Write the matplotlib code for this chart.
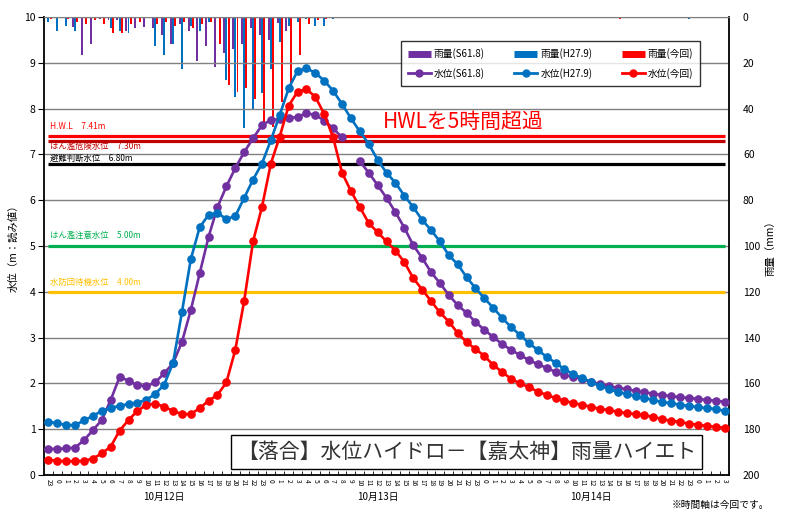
import matplotlib
matplotlib.use('Agg')
import matplotlib.pyplot as plt
import matplotlib.transforms as mtransforms
from matplotlib.lines import Line2D
import numpy as np

plt.rcParams['font.family'] = ['Noto Sans CJK JP', 'DejaVu Sans']

######################################################
# データ
hours = ['23'] + [str(h) for h in range(24)] * 3 + ['0', '1', '2', '3']
date_labels = ['10月12日', '10月13日', '10月14日']
date_pos = [13, 37, 61]

nan = float('nan')
# 水位 (m)
level_s61 = [0.57, 0.57, 0.58, 0.60, 0.76, 0.98, 1.20, 1.64, 2.14, 2.06,
             1.96, 1.94, 2.02, 2.22, 2.44, 2.90, 3.60, 4.40, 5.20, 5.85,
             6.30, 6.70, 7.05, 7.35, 7.64, 7.75, 7.77, 7.79, 7.82, 7.90,
             7.86, 7.74, 7.57, 7.37, nan, 6.85, 6.60, 6.33, 6.05, 5.74,
             5.40, 5.02, 4.74, 4.43, 4.19, 3.93, 3.71, 3.54, 3.34, 3.17,
             3.01, 2.86, 2.73, 2.62, 2.51, 2.42, 2.34, 2.25, 2.18, 2.14,
             2.10, 2.03, 1.99, 1.94, 1.90, 1.88, 1.83, 1.81, 1.77, 1.75,
             1.72, 1.70, 1.68, 1.66, 1.64, 1.62, 1.60]
level_h27 = [1.16, 1.13, 1.09, 1.09, 1.19, 1.29, 1.40, 1.46, 1.51, 1.55,
             1.58, 1.64, 1.77, 1.97, 2.44, 3.55, 4.71, 5.41, 5.68, 5.72,
             5.59, 5.65, 6.05, 6.45, 6.80, 7.31, 7.86, 8.44, 8.82, 8.88,
             8.78, 8.61, 8.39, 8.10, 7.79, 7.50, 7.23, 6.88, 6.60, 6.38,
             6.10, 5.85, 5.57, 5.35, 5.10, 4.80, 4.60, 4.32, 4.08, 3.86,
             3.65, 3.43, 3.23, 3.06, 2.88, 2.73, 2.58, 2.45, 2.31, 2.20,
             2.12, 2.03, 1.94, 1.88, 1.81, 1.77, 1.72, 1.68, 1.64, 1.59,
             1.57, 1.53, 1.51, 1.48, 1.46, 1.44, 1.40]
level_now = [0.33, 0.31, 0.30, 0.30, 0.31, 0.36, 0.47, 0.62, 0.97, 1.20,
             1.40, 1.53, 1.56, 1.49, 1.40, 1.33, 1.33, 1.46, 1.62, 1.75,
             2.02, 2.73, 3.80, 5.10, 5.85, 6.80, 7.39, 8.06, 8.37, 8.42,
             8.26, 7.88, 7.37, 6.60, 6.20, 5.85, 5.50, 5.30, 5.10, 4.90,
             4.65, 4.30, 4.05, 3.80, 3.55, 3.35, 3.10, 2.90, 2.75, 2.60,
             2.40, 2.25, 2.10, 2.00, 1.92, 1.82, 1.75, 1.68, 1.62, 1.57,
             1.53, 1.49, 1.44, 1.42, 1.38, 1.35, 1.33, 1.30, 1.27, 1.22,
             1.18, 1.16, 1.12, 1.10, 1.07, 1.05, 1.03]

# 雨量 (mm)
rain_s61 = [0, 0, 0, 4.5, 16.7, 12, 1, 1.5, 1.5, 6,
            5, 4.5, 5, 7.7, 12, 3, 6, 19.4, 12.8, 21.8,
            15.8, 14, 11.6, 5, 8, 10, 2.6, 6, 0, 0,
            0, 0, 0, 0, 0, 0, 0, 0, 0, 0,
            0, 0, 0, 0, 0, 0, 0, 0, 0, 0,
            0, 0, 0, 0, 0, 0, 0, 0, 0, 0,
            0, 0, 0, 0, 0, 0, 0, 0, 0, 0,
            0, 0, 0, 0, 0, 0, 0]
rain_h27 = [2, 6, 4, 6, 0.5, 0.5, 0, 5, 6, 7,
            0.5, 0, 12.8, 16.7, 12, 22.8, 4, 6, 2, 0,
            27.6, 35, 48.5, 40.6, 33, 22.5, 11, 4, 2, 1,
            4, 4, 1, 0, 0, 0, 0, 0, 0, 0,
            0, 0, 0, 0, 0, 0, 0, 0, 0, 0,
            0, 0, 0, 0, 0, 0, 0, 0, 0, 0,
            0, 0, 0, 0, 0, 0, 0, 0, 0, 0,
            0, 0, 1, 0, 0, 0, 0]
rain_now = [1, 0, 1, 2, 3, 1.5, 3, 7, 7, 3,
            2, 0, 3, 2, 4, 2, 5, 3, 2, 12,
            29.8, 32.7, 31, 36, 46, 48, 37, 30.6, 16.7, 3,
            1.5, 1, 0, 0, 0, 0, 0, 0, 0, 0,
            0, 0, 0, 0, 0, 0, 0, 0, 0, 0,
            0, 0, 0, 0, 0, 0, 0, 0, 0, 0,
            0, 0, 0, 0, 1, 0, 0, 0, 0, 0,
            0, 0, 0, 0, 0, 0, 0]

# 基準水位
thr_values = [7.41, 7.30, 6.80, 5.00, 4.00]
thr_labels = ['H.W.L　7.41m', 'はん濫危険水位　7.30m', '避難判断水位　6.80m',
              'はん濫注意水位　5.00m', '水防団待機水位　4.00m']
thr_colors = ['#ff0000', '#c00000', '#000000', '#00b050', '#ffc000']
thr_text_y = [7.60, 7.18, 6.92, 5.24, 4.21]

purple = '#7030a0'
blue = '#0070c0'
red = '#ff0000'

######################################################
fig = plt.figure(figsize=(7.92, 5.13), dpi=100)
ax = fig.add_axes([44 / 792, 38 / 513, 685 / 792, 458 / 513])
ax2 = ax.twinx()
ax.set_zorder(ax2.get_zorder() + 1)
ax.patch.set_visible(False)

x = np.arange(len(hours))

# 雨量（上から）
bw = 0.22
ax2.bar(x - 0.25, rain_s61, width=bw, color=purple, linewidth=0)
ax2.bar(x, rain_h27, width=bw, color=blue, linewidth=0)
ax2.bar(x + 0.25, rain_now, width=bw, color=red, linewidth=0)
ax2.set_ylim(200, 0)
ax2.set_yticks(range(0, 201, 20))
ax2.tick_params(axis='y', length=0, labelsize=7.5, pad=10)
ax2.set_ylabel('雨量（mm）', fontsize=7.5, labelpad=4)

# 基準水位の線
for v, lab, c, ty in zip(thr_values, thr_labels, thr_colors, thr_text_y):
    ax.hlines(v, x[0], x[-1], colors=c, lw=2.3, zorder=3)
    ax.text(0.2, ty, lab, color=c, fontsize=6, va='center', ha='left', zorder=4)

# 水位
for lv, c in [(level_s61, purple), (level_h27, blue), (level_now, red)]:
    ax.plot(x, lv, color=c, lw=1.9, marker='o', markersize=5.2, zorder=5)

ax.set_xlim(-0.5, len(hours) - 0.5)
ax.set_ylim(0, 10)
ax.set_yticks(range(0, 11))
ax.yaxis.grid(True, color='#808080', lw=1)
ax.tick_params(axis='y', direction='out', length=4, labelsize=7.5, pad=2)
ax.set_ylabel('水位（m：読み値）', fontsize=7.5, labelpad=4)

ax.set_xticks(x)
ax.set_xticklabels(hours, rotation=270, fontsize=4.8)
ax.tick_params(axis='x', length=0, pad=3)
ax.set_xticks(x + 0.5, minor=True)
ax.tick_params(axis='x', which='minor', direction='in', length=3)

for s in ['left', 'right', 'bottom']:
    ax.spines[s].set_color('black')
    ax.spines[s].set_linewidth(1.3)
ax.spines['top'].set_color('#808080')
for s in ax2.spines.values():
    s.set_visible(False)

trans = mtransforms.blended_transform_factory(ax.transData, ax.transAxes)
for p, d in zip(date_pos, date_labels):
    ax.text(p, -0.048, d, transform=trans, ha='center', va='center', fontsize=7)

# 凡例
handles = [Line2D([], [], color=purple, lw=5, solid_capstyle='butt'),
           Line2D([], [], color=purple, lw=2, marker='o', markersize=5),
           Line2D([], [], color=blue, lw=5, solid_capstyle='butt'),
           Line2D([], [], color=blue, lw=2, marker='o', markersize=5),
           Line2D([], [], color=red, lw=5, solid_capstyle='butt'),
           Line2D([], [], color=red, lw=2, marker='o', markersize=5)]
labels = ['雨量(S61.8)', '水位(S61.8)', '雨量(H27.9)', '水位(H27.9)',
          '雨量(今回)', '水位(今回)']
leg = ax.legend(handles, labels, ncol=3, loc='upper left',
                bbox_to_anchor=(0.521, 0.947),
                fontsize=7, frameon=True, fancybox=False, borderpad=0.7,
                handlelength=2.4, handletextpad=0.3, columnspacing=3.0,
                labelspacing=0.9, borderaxespad=0)
leg.get_frame().set_edgecolor('black')
leg.get_frame().set_linewidth(1)
leg.set_zorder(10)

ax.text(37.6, 7.71, 'HWLを5時間超過', color=red, fontsize=15, va='center',
        ha='left', zorder=6)

ax.text(47.0, 0.5, '【落合】水位ハイドロ－【嘉太神】雨量ハイエト', color='#333333',
        fontsize=15, ha='center', va='center', zorder=6,
        bbox=dict(boxstyle='square,pad=0.3', fc='white', ec='black', lw=1))

fig.text(672 / 792, 1 - 505 / 513, '※時間軸は今回です。', fontsize=7, va='center')

fig.savefig('out.png', dpi=100)
